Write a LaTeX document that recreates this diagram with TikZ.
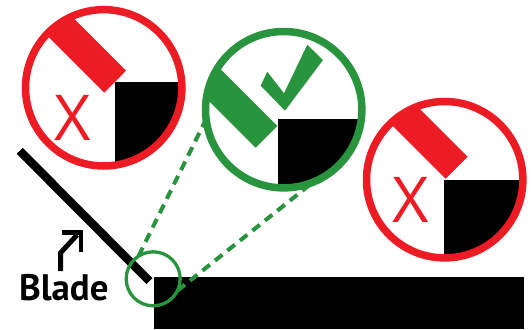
\documentclass[tikz,border=0pt]{standalone}
\usepackage{xcolor}
\usepackage{fontspec}
\setmainfont{Open Sans}
\newfontfamily\bladefont{PT Sans}
\usetikzlibrary{positioning}
\definecolor{myred}{RGB}{237,28,36}
\definecolor{mygreen}{RGB}{41,148,62}
\tikzset{
  lens/.style={circle, draw=#1, fill=none, line width=0.15cm,
    minimum size=3.128cm, inner sep=0pt, outer sep=0pt},
  spot/.style={circle, draw=mygreen, line width=0.066cm,
    minimum size=1.08cm, inner sep=0pt, outer sep=0pt},
  failmark/.style={text=myred, font=\fontsize{36}{36}\selectfont, inner sep=0pt},
  bladetext/.style={font=\fontsize{21}{21}\selectfont\bladefont\bfseries, inner sep=0pt},
  zoomline/.style={color=mygreen, line width=0.08cm, dash pattern=on 0.19cm off 0.13cm},
  blade/.style={line width=0.17cm, color=black},
  pointer/.style={line width=0.1cm, color=black, miter limit=10}
}
\begin{document}
\begin{tikzpicture}[x=0.02cm, y=-0.02cm]
  \useasboundingbox (0,0) rectangle (532,329);

  % Workpiece
  \fill[black] (154,276.7) rectangle (524,329);

  % Blade
  \draw[blade] (19.7,150.8) -- (149.5,281.2);

  % Left detail (too high)
  \begin{scope}
    \clip (103.7,87.8) circle (1.564cm);
    \fill[black] (115,81.7) rectangle (200,180);
    \fill[myred] (126,70.7) -- (104.3,92.7) -- (44.3,32.7) -- (66,10.7) -- cycle;
  \end{scope}
  \node[lens=myred] (leftlens) at (103.7,87.8) {};
  \node[failmark] (leftx) at (72.8,117.5) {X};

  % Middle detail (correct)
  \begin{scope}
    \clip (283.7,109.7) circle (1.564cm);
    \fill[black] (277.7,118.7) rectangle (380,210);
    \fill[mygreen] (277.3,126) -- (255.7,147.7) -- (195.7,87.7) -- (217.3,66) -- cycle;
  \end{scope}
  \node[lens=mygreen] (midlens) at (283.7,109.7) {};
  \fill[mygreen] (267.3,71.7) -- (260.7,85.7) -- (285,110.7) -- (323,60) -- (307.3,44.7) -- (284,93.3) -- cycle;

  % Right detail (too low)
  \begin{scope}
    \clip (444.7,179.7) circle (1.564cm);
    \fill[black] (444,179.7) rectangle (540,270);
    \fill[myred] (467.7,156.7) -- (445.7,178.7) -- (385.7,118.7) -- (407.7,96.7) -- cycle;
  \end{scope}
  \node[lens=myred] (rightlens) at (444.7,179.7) {};
  \node[failmark] (rightx) at (410.5,200) {X};

  % Zoom lines
  \node[spot] (edge) at (153.2,278.8) {};
  \draw[zoomline] (edge.123) -- (midlens.187);
  \draw[zoomline] (edge.-26) -- (midlens.-68);

  % Label
  \node[bladetext] (bladelabel) at (63.8,288) {Blade};
  \coordinate (pointertip) at (81,232.5);
  \draw[pointer] (60.7,271) -- (60.7,252.7) -- (77,235);
  \draw[pointer] (62,232.5) -- (pointertip) -- (81,252);
\end{tikzpicture}
\end{document}
